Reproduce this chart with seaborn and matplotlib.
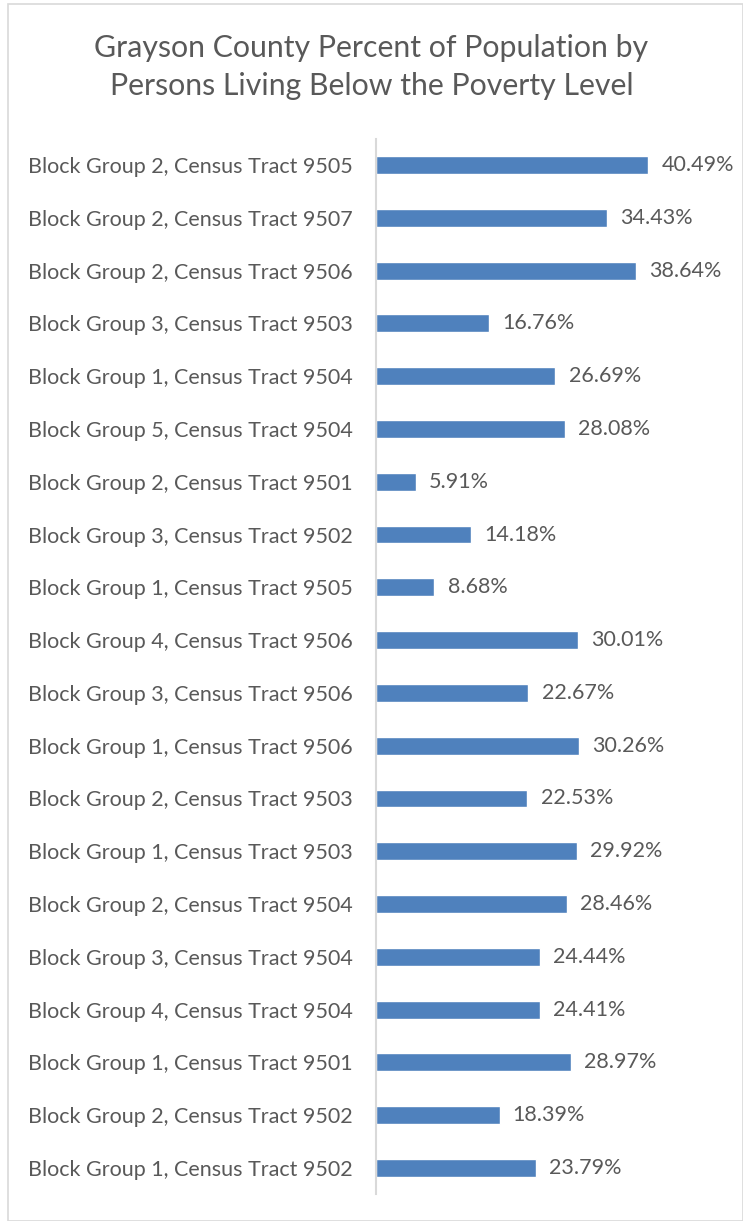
import matplotlib
matplotlib.use("Agg")
import matplotlib.pyplot as plt
import seaborn as sns
import pandas as pd
from matplotlib.patches import Rectangle

categories = [
    "Block Group 2, Census Tract 9505",
    "Block Group 2, Census Tract 9507",
    "Block Group 2, Census Tract 9506",
    "Block Group 3, Census Tract 9503",
    "Block Group 1, Census Tract 9504",
    "Block Group 5, Census Tract 9504",
    "Block Group 2, Census Tract 9501",
    "Block Group 3, Census Tract 9502",
    "Block Group 1, Census Tract 9505",
    "Block Group 4, Census Tract 9506",
    "Block Group 3, Census Tract 9506",
    "Block Group 1, Census Tract 9506",
    "Block Group 2, Census Tract 9503",
    "Block Group 1, Census Tract 9503",
    "Block Group 2, Census Tract 9504",
    "Block Group 3, Census Tract 9504",
    "Block Group 4, Census Tract 9504",
    "Block Group 1, Census Tract 9501",
    "Block Group 2, Census Tract 9502",
    "Block Group 1, Census Tract 9502",
]
values = [40.49, 34.43, 38.64, 16.76, 26.69, 28.08, 5.91, 14.18, 8.68, 30.01,
          22.67, 30.26, 22.53, 29.92, 28.46, 24.44, 24.41, 28.97, 18.39, 23.79]
title = "Grayson County Percent of Population by\nPersons Living Below the Poverty Level"

sns.set_theme(style="white")
plt.rcParams['font.family'] = ['Lato', 'DejaVu Sans']

df = pd.DataFrame({"cat": categories, "val": values})

W, H = 743, 1221
fig = plt.figure(figsize=(W / 100, H / 100), dpi=100)
fig.patch.set_facecolor("white")
fig.patches.append(Rectangle((8 / W, 0.0), (W - 8) / W, 1 - 4 / H, transform=fig.transFigure,
                             fill=False, edgecolor="#d9d9d9", linewidth=1.2))

ax = fig.add_axes([376 / W, 1 - 1194.4 / H, (712 - 376) / W, (1194.4 - 138.6) / H])
sns.barplot(data=df, x="val", y="cat", order=categories, orient="h",
            color="#4F81BD", saturation=1, width=0.34, ax=ax)
ax.set_xlim(0, 50)
ax.set_xlabel("")
ax.set_ylabel("")
ax.set_xticks([])
for s in ["top", "right", "bottom"]:
    ax.spines[s].set_visible(False)
ax.spines["left"].set_color("#d9d9d9")
ax.spines["left"].set_linewidth(1.5)
ax.tick_params(axis="y", length=0, pad=17, labelsize=15.5, labelcolor="#595959")

for c in ax.containers:
    ax.bar_label(c, labels=[f"{v:.2f}%" for v in values], padding=9.5,
                 fontsize=15.5, color="#595959")

fig.text(0.5, 1 - 67 / H, title, ha="center", va="center", fontsize=21.8,
         color="#595959", linespacing=1.45)

fig.savefig("out.png", dpi=100)
